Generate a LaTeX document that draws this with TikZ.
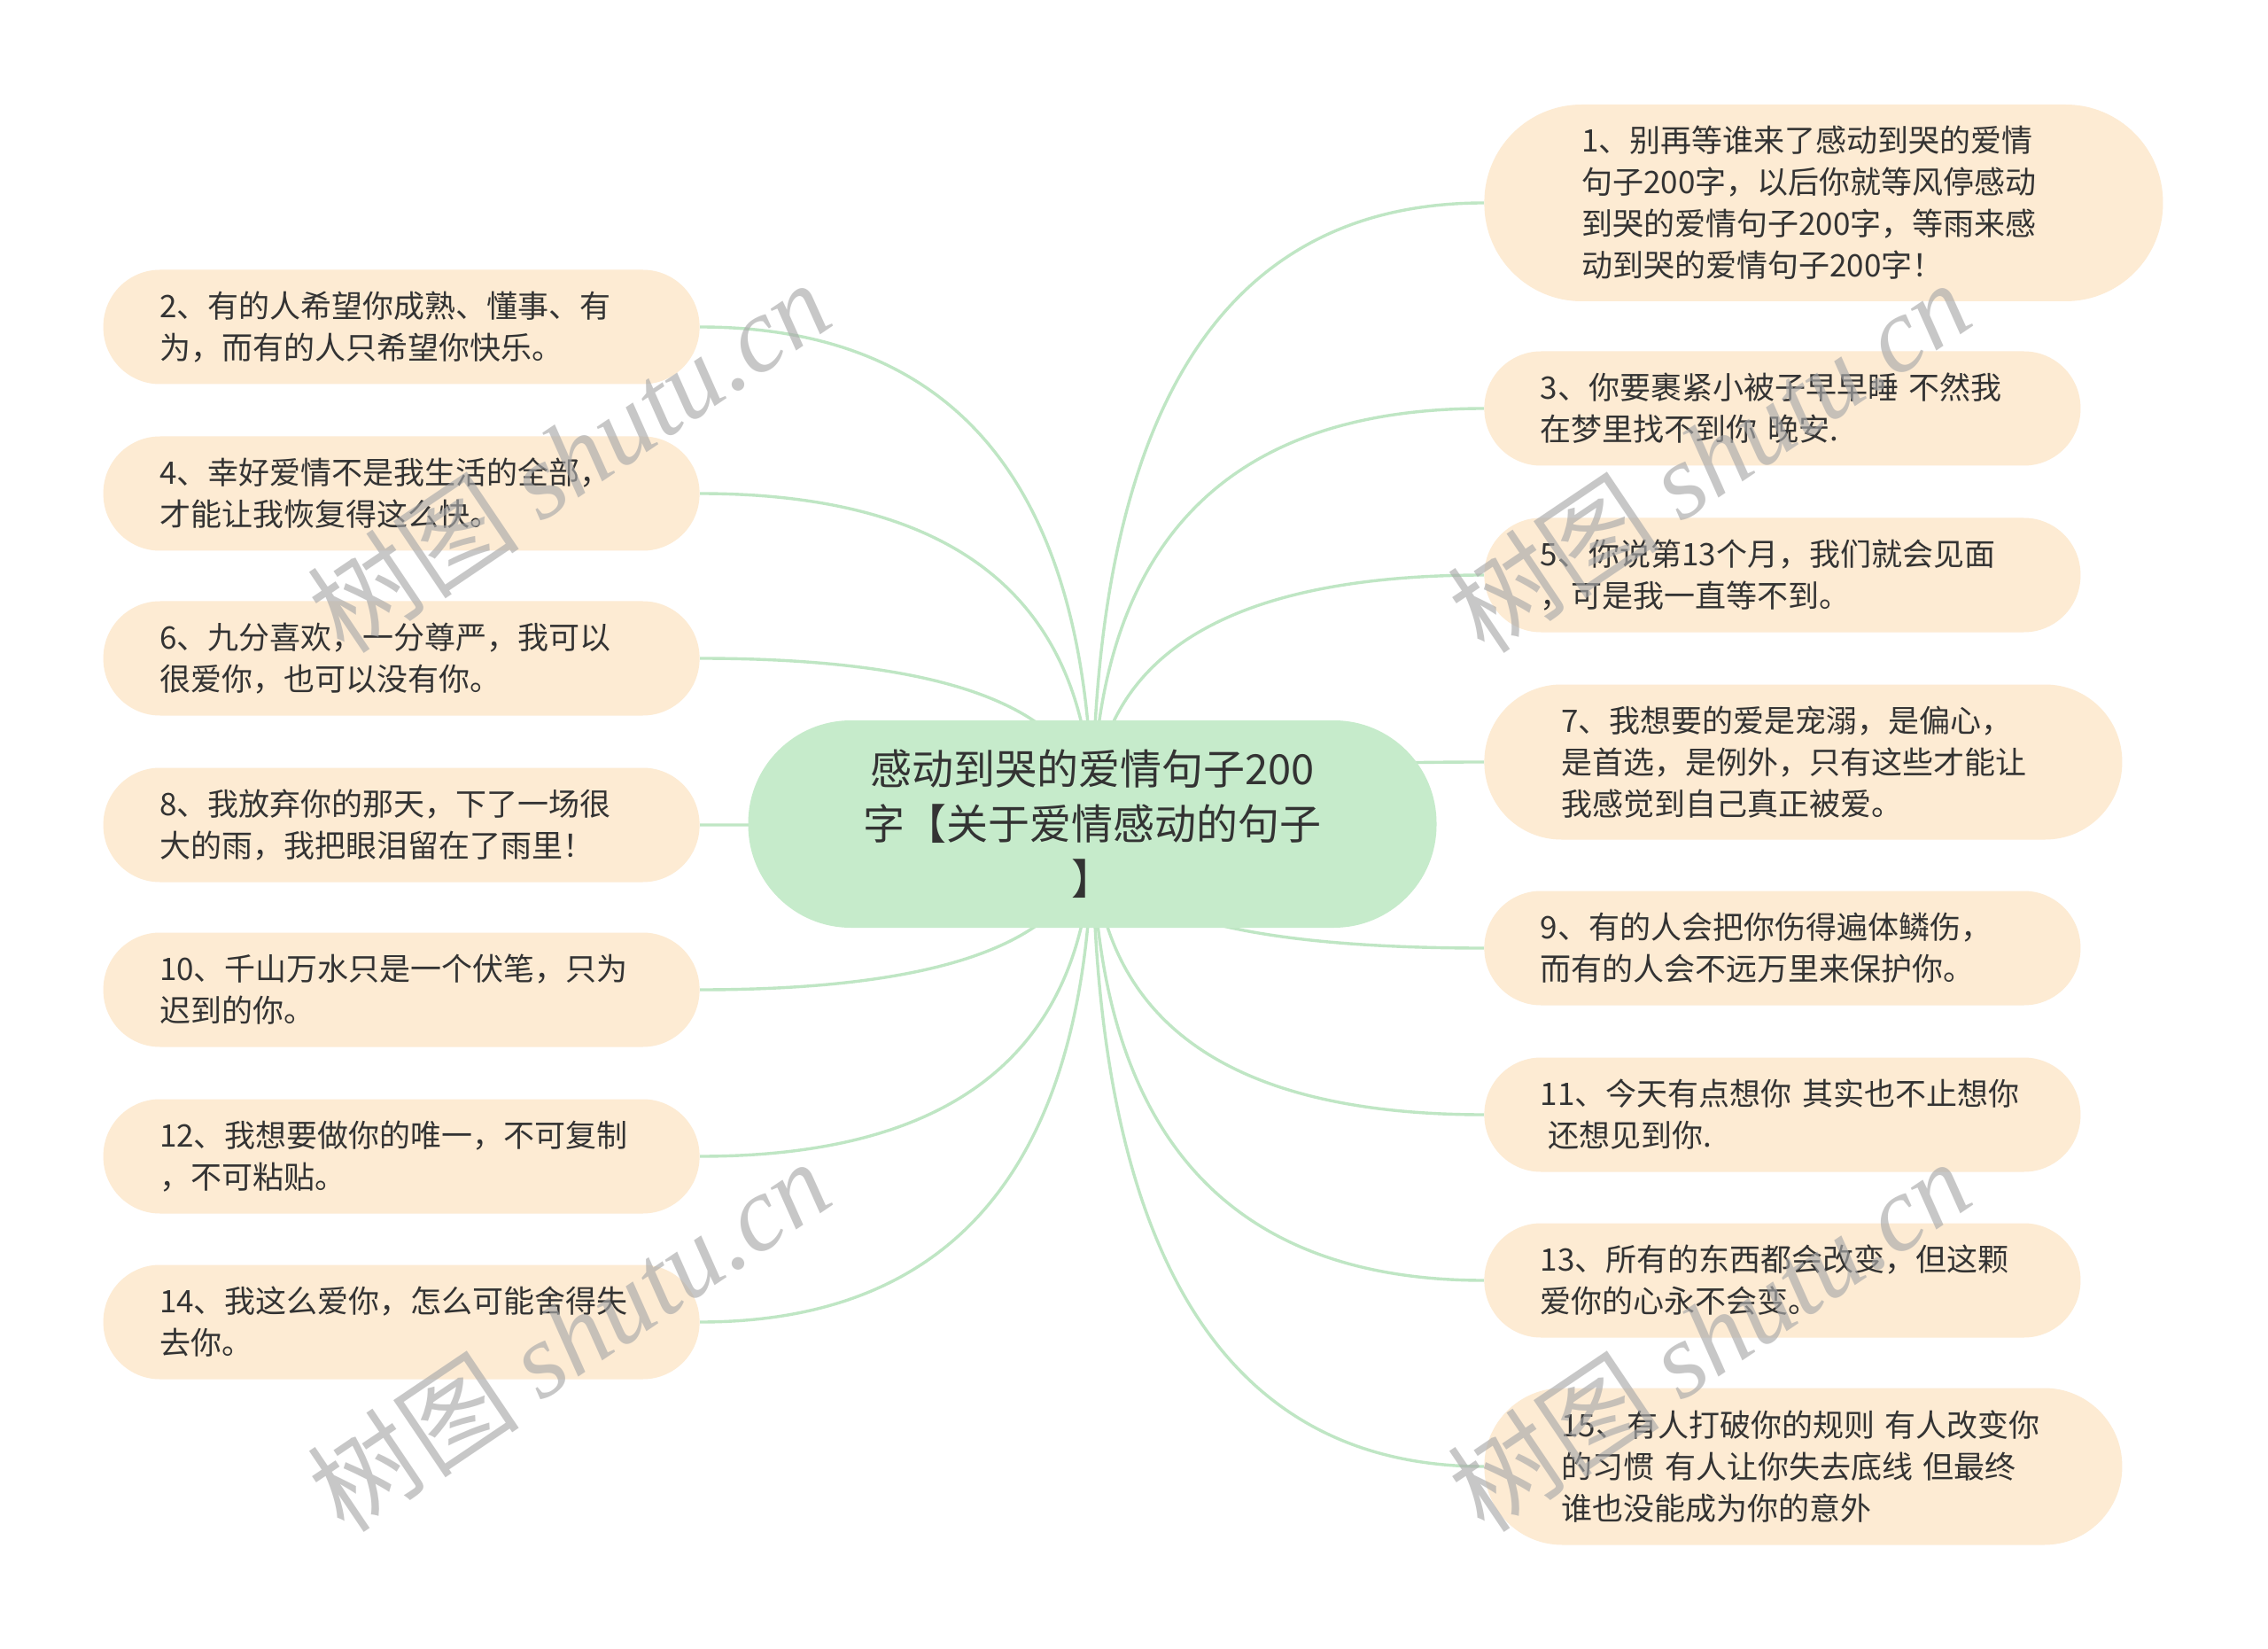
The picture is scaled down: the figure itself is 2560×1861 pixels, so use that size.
\documentclass[tikz,border=0pt]{standalone}
\usepackage{fontspec}
\setmainfont{Noto Sans CJK SC}
\newfontfamily\latinserif{Liberation Serif}
\usepackage{xcolor}
\usepackage{tikz}
\usetikzlibrary{calc,backgrounds}

\definecolor{leaffill}{HTML}{FDEBD3}
\definecolor{rootfill}{HTML}{C6EBCB}
\definecolor{branchcol}{HTML}{BFE6C4}
\definecolor{inkcol}{HTML}{333333}
\definecolor{wmcol}{HTML}{AAAAAA}

\begin{document}
\begin{tikzpicture}[
  x=0.5pt, y=-0.5pt,
  root/.style={fill=rootfill, rounded corners=58pt, minimum width=388.5pt, minimum height=117pt, inner sep=0pt, text width=270pt, align=center, text=inkcol, font=\fontsize{23.5}{31}\selectfont},
  leaf/.style={fill=leaffill, rounded corners=32pt, minimum width=336.5pt, minimum height=64.5pt, inner sep=0pt, text width=273pt, align=left, text=inkcol, font=\fontsize{17.5}{23.5}\selectfont},
  branch/.style={draw=branchcol, line width=1.7pt},
  wmark/.style={text=wmcol, opacity=0.65, rotate=34, font=\fontsize{60}{60}\selectfont},
]
\useasboundingbox (0,0) rectangle (2560,1861);

% centre
\node[root] (root) at (1233,930) {感动到哭的爱情句子200\\字【关于爱情感动的句子\\】};

% left column
\node[leaf, anchor=east] (n2) at (790,369) {2、有的人希望你成熟、懂事、有\\为，而有的人只希望你快乐。};
\node[leaf, anchor=east] (n4) at (790,557) {4、幸好爱情不是我生活的全部，\\才能让我恢复得这么快。};
\node[leaf, anchor=east] (n6) at (790,743) {6、九分喜欢，一分尊严，我可以\\很爱你，也可以没有你。};
\node[leaf, anchor=east] (n8) at (790,931) {8、我放弃你的那天，下了一场很\\大的雨，我把眼泪留在了雨里！};
\node[leaf, anchor=east] (n10) at (790,1117) {10、千山万水只是一个伏笔，只为\\迟到的你。};
\node[leaf, anchor=east] (n12) at (790,1305) {12、我想要做你的唯一，不可复制\\，不可粘贴。};
\node[leaf, anchor=east] (n14) at (790,1492) {14、我这么爱你，怎么可能舍得失\\去你。};

% right column
\node[leaf, anchor=west, minimum width=383pt, minimum height=111pt, rounded corners=55pt] (n1) at (1675,229) {1、别再等谁来了感动到哭的爱情\\句子200字，以后你就等风停感动\\到哭的爱情句子200字，等雨来感\\动到哭的爱情句子200字！};
\node[leaf, anchor=west] (n3) at (1675,461) {3、你要裹紧小被子早早睡 不然我\\在梦里找不到你 晚安.};
\node[leaf, anchor=west] (n5) at (1675,649) {5、你说第13个月，我们就会见面\\，可是我一直等不到。};
\node[leaf, anchor=west, minimum width=360pt, minimum height=87.5pt, rounded corners=43.5pt] (n7) at (1675,860) {7、我想要的爱是宠溺，是偏心，\\是首选，是例外，只有这些才能让\\我感觉到自己真正被爱。};
\node[leaf, anchor=west] (n9) at (1675,1070) {9、有的人会把你伤得遍体鳞伤，\\而有的人会不远万里来保护你。};
\node[leaf, anchor=west] (n11) at (1675,1258) {11、今天有点想你 其实也不止想你\\\hspace*{0.25em}还想见到你.};
\node[leaf, anchor=west] (n13) at (1675,1445) {13、所有的东西都会改变，但这颗\\爱你的心永不会变。};
\node[leaf, anchor=west, minimum width=360pt, minimum height=88.5pt, rounded corners=44pt] (n15) at (1675,1655) {15、有人打破你的规则 有人改变你\\的习惯 有人让你失去底线 但最终\\谁也没能成为你的意外};

% branches behind the boxes
\begin{scope}[on background layer]
\fill[white] (0,0) rectangle (2560,1861);
\foreach \n in {n2,n4,n6,n8,n10,n12,n14}
  \draw[branch] (root.center) .. controls ($(root.center)!2/3!(root.center |- \n.east)$) and ($(\n.east)!2/3!(root.center |- \n.east)$) .. (\n.east);
\foreach \n in {n1,n3,n5,n7,n9,n11,n13,n15}
  \draw[branch] (root.center) .. controls ($(root.center)!2/3!(root.center |- \n.west)$) and ($(\n.west)!2/3!(root.center |- \n.west)$) .. (\n.west);
\end{scope}

% watermarks
\node[wmark] (wm1) at (642,515) {树图 {\latinserif\itshape shutu.cn}};
\node[wmark] (wm2) at (1929,515) {树图 {\latinserif\itshape shutu.cn}};
\node[wmark] (wm3) at (642,1507) {树图 {\latinserif\itshape shutu.cn}};
\node[wmark] (wm4) at (1929,1507) {树图 {\latinserif\itshape shutu.cn}};
\end{tikzpicture}
\end{document}
